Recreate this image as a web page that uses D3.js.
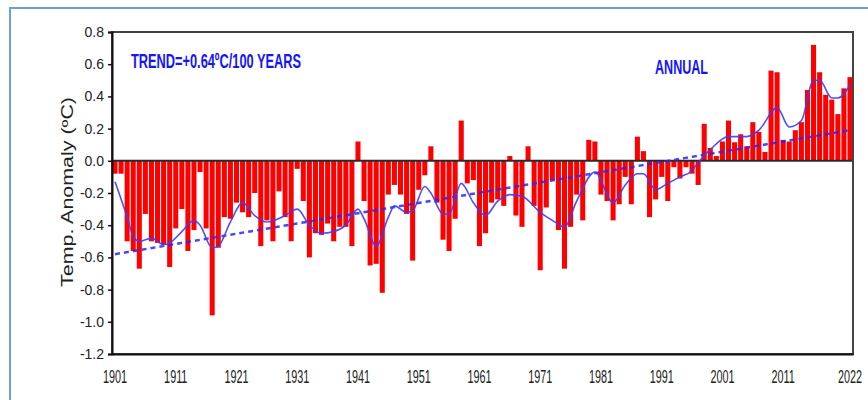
<!DOCTYPE html>
<html>
<head>
<meta charset="utf-8">
<script src="https://cdn.jsdelivr.net/npm/d3@7"></script>
<style>
	body { margin: 0; background: #fff; }
	svg { display: block; }
	text { font-family: "Liberation Sans", Arial, sans-serif; fill: #222; }
	.note { font-family: "Liberation Sans Narrow", "Liberation Sans", Arial, sans-serif; font-weight: bold; fill: #1414ff; }
</style>
</head>
<body>
<svg id="chart"></svg>
<script>
// annual mean temperature anomaly, 1901 .. 2022
const firstYear = 1901;
const anomalies = [
	-0.08, -0.08, -0.50, -0.56, -0.67, -0.33, -0.50, -0.51, -0.52, -0.66, // 1901-1910
	-0.42, -0.30, -0.56, -0.43, -0.07, -0.42, -0.96, -0.54, -0.35, -0.36, // 1911-1920
	-0.26, -0.32, -0.35, -0.20, -0.53, -0.37, -0.50, -0.19, -0.35, -0.50, // 1921-1930
	-0.05, -0.25, -0.60, -0.45, -0.46, -0.39, -0.50, -0.41, -0.41, -0.53, // 1931-1940
	0.12, -0.25, -0.65, -0.64, -0.82, -0.21, -0.15, -0.21, -0.33, -0.62,  // 1941-1950
	-0.18, -0.09, 0.09, -0.26, -0.49, -0.56, -0.36, 0.25, -0.14, -0.12,   // 1951-1960
	-0.53, -0.45, -0.26, -0.24, -0.28, 0.03, -0.34, -0.41, 0.09, -0.28,   // 1961-1970
	-0.68, -0.29, -0.12, -0.43, -0.67, -0.41, -0.21, -0.37, 0.13, 0.12,   // 1971-1980
	-0.21, -0.25, -0.37, -0.27, -0.10, -0.27, 0.15, 0.06, -0.35, -0.24,   // 1981-1990
	-0.10, -0.25, -0.04, -0.11, -0.04, -0.08, -0.15, 0.23, 0.08, 0.03,    // 1991-2000
	0.12, 0.25, 0.115, 0.165, 0.09, 0.24, 0.18, 0.055, 0.56, 0.55,        // 2001-2010
	0.13, 0.12, 0.19, 0.24, 0.44, 0.72, 0.55, 0.41, 0.38, 0.29,           // 2011-2020
	0.45, 0.52                                                            // 2021-2022
];
const years = anomalies.map((_, i) => firstYear + i);

// smoothed curve, points
const smoothYears = [1901, 1903, 1904, 1905, 1907, 1909, 1910, 1912, 1914, 1915, 1917, 1918, 1920, 1922,
	1924, 1926, 1929, 1931, 1933, 1935, 1937, 1939, 1941, 1942, 1944, 1946, 1947, 1949, 1950, 1952,
	1953, 1955, 1956, 1958, 1960, 1962, 1964, 1966, 1968, 1971, 1973, 1975, 1977, 1980, 1983, 1985,
	1987, 1988, 1990, 1992, 1994, 1996, 1997, 1999, 2002, 2005, 2007, 2010, 2012, 2014, 2016, 2017,
	2019, 2020, 2022];
const smoothValues = [-0.13, -0.35, -0.47, -0.50, -0.48, -0.52, -0.51, -0.44, -0.37, -0.40, -0.54, -0.53, -0.38, -0.26,
	-0.34, -0.38, -0.34, -0.30, -0.40, -0.45, -0.44, -0.40, -0.30, -0.36, -0.53, -0.35, -0.28, -0.32, -0.31, -0.16,
	-0.20, -0.33, -0.33, -0.14, -0.26, -0.34, -0.25, -0.21, -0.22, -0.32, -0.37, -0.41, -0.25, -0.07, -0.26, -0.15,
	-0.08, -0.08, -0.18, -0.14, -0.10, -0.06, -0.01, 0.07, 0.15, 0.15, 0.19, 0.33, 0.21, 0.25, 0.50, 0.50,
	0.39, 0.39, 0.47];

// linear trend end points
const trendYears = [1901, 2022];
const trendValues = [-0.58, 0.19];

const yTicks = [0.8, 0.6, 0.4, 0.2, 0.0, -0.2, -0.4, -0.6, -0.8, -1.0, -1.2];
const xTickYears = [1901, 1911, 1921, 1931, 1941, 1951, 1961, 1971, 1981, 1991, 2001, 2011, 2022];

const trendLabel = 'TREND=+0.64\u00baC/100 YEARS';
const seasonLabel = 'ANNUAL';
const yAxisLabel = 'Temp. Anomaly (\u00baC)';

let width = 868;
let height = 400;
let margin = { top: 32, right: 15, bottom: 46, left: 112 };

let svg = d3.select('#chart')
	.attr('width', width)
	.attr('height', height);

// light blue page frame (right and bottom edges fall outside the picture)
svg.append('rect')
	.attr('x', 10).attr('y', 8)
	.attr('width', width + 20).attr('height', height + 20)
	.attr('fill', 'none')
	.attr('stroke', '#6a9fd8')
	.attr('stroke-width', 2);

let x = d3.scaleBand()
	.domain(years)
	.range([margin.left, width - margin.right])
	.paddingInner(0.17)
	.paddingOuter(0.08);

let y = d3.scaleLinear()
	.domain([-1.2, 0.8])
	.range([height - margin.bottom, margin.top]);

let xc = yr => x(yr) + x.bandwidth() / 2;

// bars
svg.append('g')
	.selectAll('rect')
	.data(years)
	.enter()
	.append('rect')
	.attr('x', d => x(d))
	.attr('width', x.bandwidth())
	.attr('y', (d, i) => y(Math.max(0, anomalies[i])))
	.attr('height', (d, i) => Math.abs(y(anomalies[i]) - y(0)))
	.attr('fill', '#ff0000');

// zero line
svg.append('line')
	.attr('x1', margin.left).attr('x2', width - margin.right)
	.attr('y1', y(0)).attr('y2', y(0))
	.attr('stroke', '#2a2a2a')
	.attr('stroke-width', 2);

// trend (dashed)
let trendLine = d3.line()
	.x(d => xc(d[0]))
	.y(d => y(d[1]));
svg.append('path')
	.datum(trendYears.map((yr, i) => [yr, trendValues[i]]))
	.attr('d', trendLine)
	.attr('fill', 'none')
	.attr('stroke', '#2626ff')
	.attr('stroke-width', 2.5)
	.attr('stroke-dasharray', '5,4')
	.attr('opacity', 0.85);

// smoothed curve
let smoothLine = d3.line()
	.x(d => xc(d[0]))
	.y(d => y(d[1]))
	.curve(d3.curveMonotoneX);
svg.append('path')
	.datum(smoothYears.map((yr, i) => [yr, smoothValues[i]]))
	.attr('d', smoothLine)
	.attr('fill', 'none')
	.attr('stroke', '#3b3bff')
	.attr('stroke-width', 1.6)
	.attr('opacity', 0.9);

// frame: top and right dark grey, left and bottom axes black
svg.append('rect')
	.attr('x', margin.left).attr('y', margin.top)
	.attr('width', width - margin.left - margin.right)
	.attr('height', height - margin.top - margin.bottom)
	.attr('fill', 'none')
	.attr('stroke', '#444')
	.attr('stroke-width', 2);

// y axis
let yAxis = d3.axisLeft(y)
	.tickValues(yTicks)
	.tickFormat(d3.format('.1f'))
	.tickSize(4)
	.tickPadding(4);
let gy = svg.append('g')
	.attr('transform', `translate(${margin.left},0)`)
	.call(yAxis);
gy.select('.domain').attr('stroke', '#111').attr('stroke-width', 2);
gy.selectAll('.tick line').attr('stroke', '#111').attr('stroke-width', 1.5);
gy.selectAll('.tick text')
	.style('font-size', '14px')
	.attr('fill', '#222')
	.text(d => d3.format('.1f')(d).replace('\u2212', '-'));

// x axis (labels only, no tick marks); tall narrow digits
let xAxis = d3.axisBottom(x)
	.tickValues(xTickYears)
	.tickSize(0)
	.tickPadding(0);
let gx = svg.append('g')
	.attr('transform', `translate(0,${height - margin.bottom})`)
	.call(xAxis);
gx.select('.domain').attr('stroke', '#111').attr('stroke-width', 2);
gx.selectAll('.tick text')
	.attr('y', 29)
	.attr('dy', 0)
	.attr('transform', 'scale(0.57,1)')
	.style('font-size', '19px')
	.attr('fill', '#222');

// y axis title
svg.append('text')
	.attr('transform', 'translate(73,192) rotate(-90)')
	.attr('text-anchor', 'middle')
	.style('font-size', '16px')
	.attr('textLength', 190)
	.attr('lengthAdjust', 'spacingAndGlyphs')
	.text(yAxisLabel);

// notes inside the plot
svg.append('text')
	.attr('class', 'note')
	.attr('x', 131).attr('y', 68)
	.style('font-size', '20px')
	.attr('textLength', 170)
	.attr('lengthAdjust', 'spacingAndGlyphs')
	.text(trendLabel);

svg.append('text')
	.attr('class', 'note')
	.attr('x', 655).attr('y', 74)
	.style('font-size', '20px')
	.attr('textLength', 53)
	.attr('lengthAdjust', 'spacingAndGlyphs')
	.text(seasonLabel);
</script>
</body>
</html>
